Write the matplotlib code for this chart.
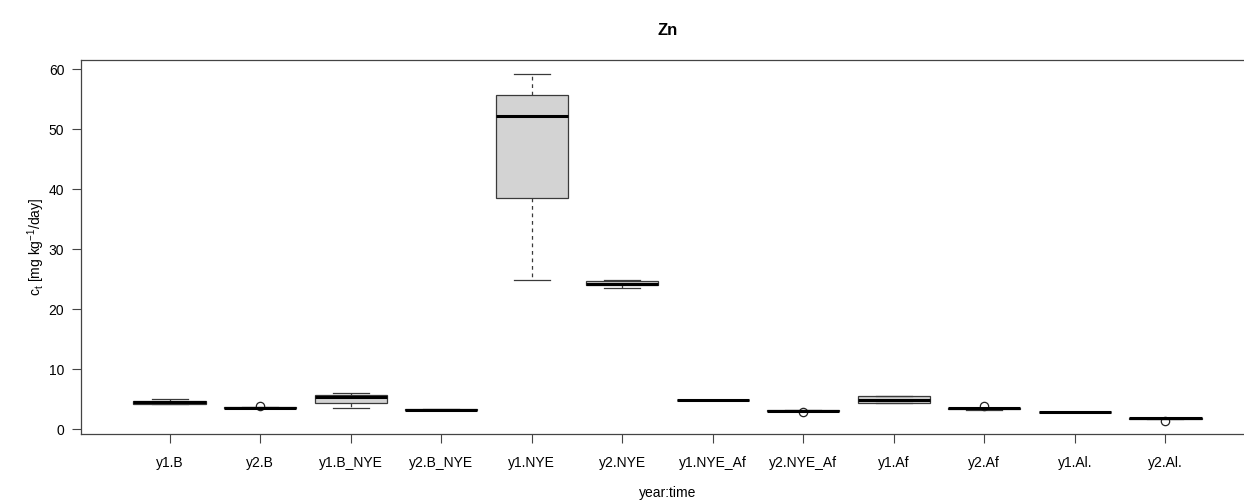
import numpy as np
import matplotlib
matplotlib.use("Agg")
import matplotlib.pyplot as plt

plt.rcParams['font.family'] = ['Liberation Sans', 'DejaVu Sans']

# box statistics (mg kg^-1 / day)
labels = ["y1.B", "y2.B", "y1.B_NYE", "y2.B_NYE", "y1.NYE", "y2.NYE",
          "y1.NYE_Af", "y2.NYE_Af", "y1.Af", "y2.Af", "y1.Al.", "y2.Al."]
whislo = [4.27, 3.55, 3.60, 3.22, 24.9, 23.55, 4.85, 3.10, 4.43, 3.27, 2.90, 1.80]
q1 = [4.27, 3.55, 4.43, 3.22, 38.5, 24.00, 4.85, 3.10, 4.43, 3.45, 2.90, 1.80]
med = [4.50, 3.60, 5.43, 3.27, 52.1, 24.27, 4.88, 3.13, 4.93, 3.50, 2.93, 1.83]
q3 = [4.77, 3.65, 5.77, 3.30, 55.6, 24.77, 4.90, 3.16, 5.50, 3.55, 2.96, 1.86]
whishi = [5.00, 3.65, 6.10, 3.30, 59.2, 24.85, 4.90, 3.16, 5.50, 3.55, 2.96, 1.86]
fliers = [[], [3.88], [], [], [], [], [], [2.93], [], [3.93], [], [1.38]]

stats = []
for i in range(len(labels)):
    stats.append(dict(label=labels[i], whislo=whislo[i], q1=q1[i], med=med[i],
                      q3=q3[i], whishi=whishi[i], fliers=fliers[i]))

fig = plt.figure(figsize=(12.44, 5.01), dpi=100)
ax = fig.add_axes([81 / 1244, 67 / 501, 1173 / 1244, 374 / 501])

positions = np.arange(1, len(labels) + 1)
ax.bxp(stats, positions=positions, widths=0.8, patch_artist=True,
       boxprops=dict(facecolor='#d3d3d3', edgecolor='#3a3a3a', linewidth=0.9),
       medianprops=dict(color='black', linewidth=2.2),
       whiskerprops=dict(color='#3a3a3a', linewidth=0.9, linestyle=(0, (3, 3))),
       capprops=dict(color='#3a3a3a', linewidth=0.9),
       flierprops=dict(marker='o', markerfacecolor='none', markeredgecolor='#222222',
                       markersize=6, markeredgewidth=0.9))

ax.set_xlim(0.02, 12.98)
ax.set_ylim(-0.78, 61.5)
ax.set_yticks([0, 10, 20, 30, 40, 50, 60])
ax.set_xticks(positions)
ax.set_xticklabels(labels)

for s in ax.spines.values():
    s.set_color('#444444')
    s.set_linewidth(0.9)
ax.spines['right'].set_visible(False)
ax.tick_params(axis='both', direction='out', length=6.5, width=0.8,
               color='#444444', labelsize=10)
ax.tick_params(axis='x', pad=9)
ax.tick_params(axis='y', pad=5.5)

ax.set_title("Zn", fontsize=12, fontweight='bold', pad=18)
ax.set_xlabel("year:time", fontsize=10, labelpad=12)
ax.set_ylabel(r"c$_\mathregular{t}$ [mg kg$^{\mathregular{-1}}$/day]", fontsize=10, labelpad=1)

fig.savefig("out.png", dpi=100)
